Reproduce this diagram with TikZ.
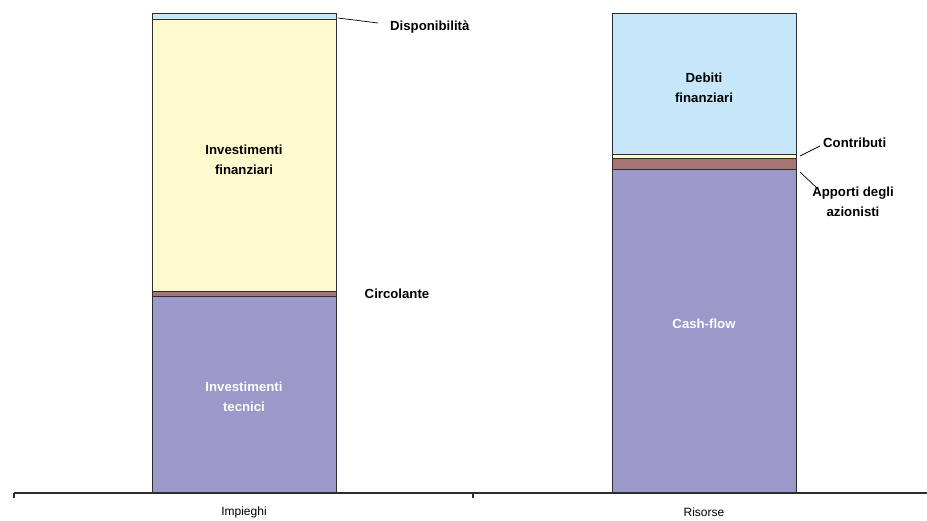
\documentclass[tikz,border=0pt]{standalone}
\usepackage{fontspec}
\setmainfont{Liberation Sans}
\definecolor{lblue}{RGB}{198,231,250}
\definecolor{lyel}{RGB}{255,250,206}
\definecolor{brown}{RGB}{166,116,116}
\definecolor{purp}{RGB}{154,153,202}
\definecolor{edge}{RGB}{45,45,45}
\begin{document}
\begin{tikzpicture}[x=1pt,y=-1pt,
  seg/.style={draw=edge,line width=1pt},
  lab/.style={font=\bfseries\fontsize{13.2}{19.5}\selectfont,align=center,inner sep=0pt},
  wlab/.style={lab,text=white},
  axlab/.style={font=\fontsize{12}{14}\selectfont,inner sep=0pt},
  leader/.style={draw=black,line width=0.7pt}]
\useasboundingbox (0,0) rectangle (927,520);
% left bar
\draw[seg,fill=lblue] (152,13) rectangle (336,19);
\draw[seg,fill=lyel] (152,19) rectangle (336,291);
\draw[seg,fill=brown] (152,291) rectangle (336,296);
\draw[seg,fill=purp] (152,296) rectangle (336,493);
% right bar
\draw[seg,fill=lblue] (612,13) rectangle (796,154);
\draw[seg,fill=lyel] (612,154) rectangle (796,158);
\draw[seg,fill=brown] (612,158) rectangle (796,169);
\draw[seg,fill=purp] (612,169) rectangle (796,493);
% axis
\coordinate (axL) at (14,493);
\coordinate (axR) at (927,493);
\coordinate (tk1) at (14,498);
\coordinate (tk2t) at (473,493);
\coordinate (tk2) at (473,498);
\draw[line width=1.3pt,edge] (axL) -- (axR);
\draw[line width=1.2pt,edge] (axL) -- (tk1);
\draw[line width=1.2pt,edge] (tk2t) -- (tk2);
% labels inside bars
\node[lab] (invfin) at (244,160) {Investimenti\\finanziari};
\node[wlab] (invtec) at (244,397) {Investimenti\\tecnici};
\node[lab] (debfin) at (704,88) {Debiti\\finanziari};
\node[wlab] (cash) at (704,324) {Cash-flow};
% outside labels
\node[lab,anchor=west] (disp) at (390,27) {Disponibilità};
\node[lab] (circ) at (397,294) {Circolante};
\node[lab,anchor=west] (contr) at (823,143) {Contributi};
\node[lab] (appo) at (853,202) {Apporti degli\\azionisti};
\node[axlab] (imp) at (244,512) {Impieghi};
\node[axlab] (ris) at (704,512) {Risorse};
% leaders
\coordinate (d1) at (338,18); \coordinate (d2) at (378,23);
\coordinate (c1) at (800,156); \coordinate (c2) at (820,146);
\coordinate (a1) at (800,172); \coordinate (a2) at (818,189);
\draw[leader] (d1) -- (d2);
\draw[leader] (c1) -- (c2);
\draw[leader] (a1) -- (a2);
\end{tikzpicture}
\end{document}
